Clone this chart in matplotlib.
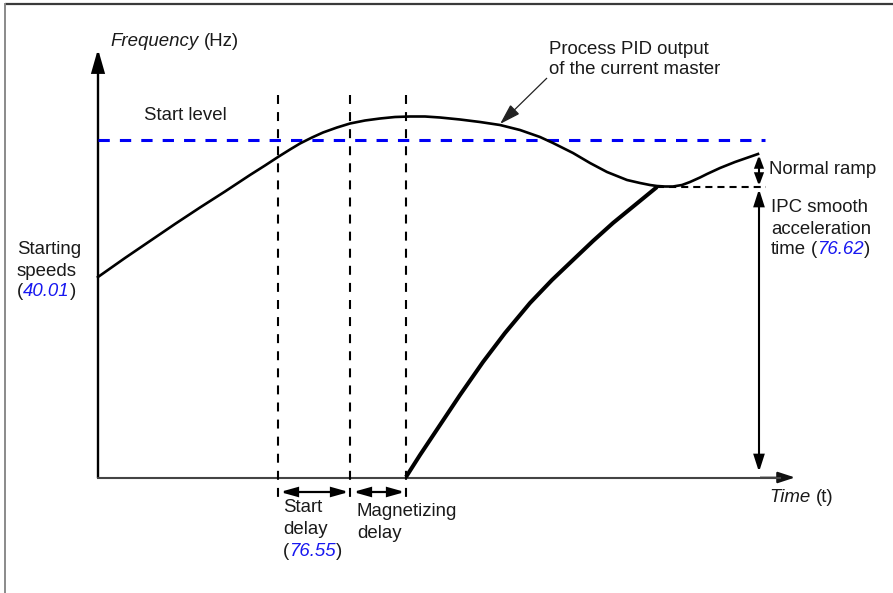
import matplotlib.pyplot as plt
from matplotlib.patches import FancyArrowPatch

# figure is drawn in pixel units (y grows downward)
W, H = 893, 593
FS = 13.4
BLUE = '#1818f0'
INK = '#1a1a1a'

# process PID output of the current master
pid_x = [98, 125, 150, 175, 200, 225, 250, 265, 278, 290, 300, 312, 323, 337, 350, 365, 380, 395,
         410, 425, 440, 460, 480, 500, 520, 540, 553, 573, 590, 607, 627, 640, 650, 657, 665,
         673, 682, 690, 700, 707, 720, 735, 758]
pid_y = [277, 258, 241, 224, 207.5, 191.5, 175, 165.5, 157, 149.5, 143.5, 137.5, 132.5, 127.5, 123.5,
         120.5, 118.5, 117, 116.5, 116.5, 117.5, 119.5, 122, 125, 130, 137, 143, 153, 163, 172, 180,
         183, 185, 186, 186.5, 186.5, 185, 182, 177.5, 174, 168, 162, 154]

# IPC smooth acceleration of the started drive
ipc_x = [406, 420, 440, 460, 483, 505, 530, 552, 573, 593, 613, 635, 657]
ipc_y = [477, 455, 425, 395, 362, 333, 303, 280, 260, 241, 223, 205, 187]

start_level = 140
event_x = [278, 350, 406]          # start delay begins / ends, magnetizing ends
ipc_target = 187
ramp_end = (758, 154)

fig = plt.figure(figsize=(W / 100, H / 100), dpi=100)
ax = fig.add_axes([0, 0, 1, 1])
ax.set_xlim(0, W)
ax.set_ylim(H, 0)
ax.axis('off')
renderer = fig.canvas.get_renderer()
plt.rcParams['font.family'] = ['Liberation Sans', 'DejaVu Sans']


def arrow(p0, p1, style, lw=1.5, color='k'):
    ax.add_patch(FancyArrowPatch(p0, p1, arrowstyle=style, lw=lw, color=color,
                                 shrinkA=0, shrinkB=0, mutation_scale=1,
                                 joinstyle='miter', capstyle='butt'))


def line(x, y, parts):
    # parts: (text, kind) with kind n=normal, i=italic, b=blue italic number
    for s, kind in parts:
        t = ax.text(x, y, s.rstrip(), fontsize=FS, va='center', ha='left',
                    style='normal' if kind == 'n' else 'italic',
                    color=BLUE if kind == 'b' else INK)
        x += t.get_window_extent(renderer).width
        if s.endswith(' '):
            x += 0.278 * FS * 100 / 72


# frame
ax.plot([5, W], [3.5, 3.5], color='#3a3a3a', lw=1.6, solid_capstyle='butt')
ax.plot([5, 5], [3, H], color='#8a8a8a', lw=1.4, solid_capstyle='butt')

# axes
ax.plot([98, 780], [477.5, 477.5], color='#444444', lw=1.5)
arrow((760, 477.5), (795, 477.5), '-|>,head_length=11,head_width=3.6', lw=1.2, color='#111111')
arrow((98, 478), (98, 49), '-|>,head_length=14,head_width=4', lw=1.7)

# start level
ax.plot([98, 765], [start_level] * 2, color='#0000f5', lw=2.2, ls=(0, (3.7, 3.3)))

# event markers
for x in event_x:
    ax.plot([x, x], [95, 497], color='k', lw=1.5, ls=(0, (4.3, 3.9)))
ax.plot([ipc_x[-1], 766], [ipc_target] * 2, color='k', lw=1.5, ls=(0, (3.4, 2.4)))

# curves
ax.plot(pid_x, pid_y, color='k', lw=1.9, solid_joinstyle='round')
ax.plot(ipc_x, ipc_y, color='k', lw=2.9, solid_joinstyle='round', solid_capstyle='butt')

# delay arrows
arrow((event_x[0] + 2, 492), (event_x[1] - 1, 492), '<|-|>,head_length=10,head_width=2.8', lw=1.6)
arrow((event_x[1] + 3, 492), (event_x[2] - 1, 492), '<|-|>,head_length=10,head_width=2.8', lw=1.6)

# ramp arrows
arrow((759, ramp_end[1] + 1), (759, ipc_target - 1), '<|-|>,head_length=7,head_width=2.6', lw=1.5)
arrow((759, ipc_target + 2), (759, 472), '<|-|>,head_length=10,head_width=3.2', lw=1.5)

# pointer to the PID curve
arrow((547, 78), (500, 124), '-|>,head_length=13,head_width=4', lw=0.9, color='#222222')

# labels
line(110, 41, [('Frequency ', 'i'), ('(Hz)', 'n')])
line(144, 115, [('Start level', 'n')])
line(17, 250, [('Starting', 'n')])
line(17, 271, [('speeds', 'n')])
line(17, 292, [('(', 'n'), ('40.01', 'b'), (')', 'n')])
line(549, 49, [('Process PID output', 'n')])
line(549, 70, [('of the current master', 'n')])
line(769, 169, [('Normal ramp', 'n')])
line(771, 207, [('IPC smooth', 'n')])
line(771, 229, [('acceleration', 'n')])
line(771, 250, [('time ', 'n'), ('(', 'n'), ('76.62', 'b'), (')', 'n')])
line(283, 508, [('Start', 'n')])
line(283, 530, [('delay', 'n')])
line(283, 552, [('(', 'n'), ('76.55', 'b'), (')', 'n')])
line(357, 512, [('Magnetizing', 'n')])
line(357, 533, [('delay', 'n')])
line(769, 497, [('Time ', 'i'), ('(t)', 'n')])

fig.savefig('out.png', dpi=100)
